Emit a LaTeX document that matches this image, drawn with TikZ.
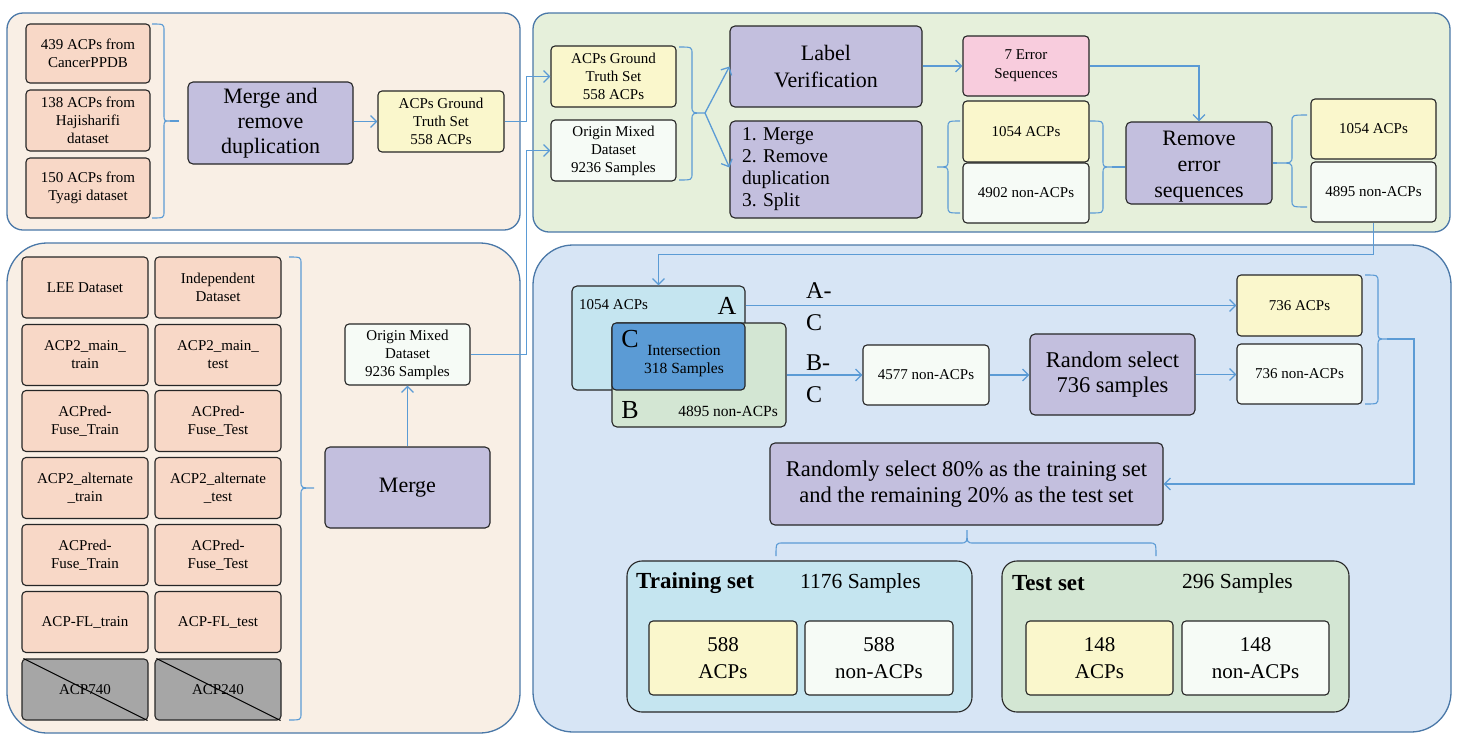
\documentclass[tikz,border=0pt]{standalone}
\usepackage{fontspec}
\setmainfont{Liberation Serif}
\usetikzlibrary{arrows.meta}
\definecolor{pbeige}{HTML}{F9EFE5}
\definecolor{pgreen}{HTML}{E6F0DB}
\definecolor{pblue}{HTML}{D7E5F5}
\definecolor{pborder}{HTML}{4A78A8}
\definecolor{salmon}{HTML}{F8D8C7}
\definecolor{lilac}{HTML}{C3BFDE}
\definecolor{lyellow}{HTML}{FAF7CC}
\definecolor{lwhite}{HTML}{F6FBF6}
\definecolor{lpink}{HTML}{F8CCDD}
\definecolor{lgray}{HTML}{A6A6A6}
\definecolor{lcyan}{HTML}{C5E5F0}
\definecolor{lgreen}{HTML}{D3E6D3}
\definecolor{cblue}{HTML}{5B9BD5}
\definecolor{conn}{HTML}{5B9BD5}
\newcommand\fs[2]{\fontsize{#1}{#2}\selectfont}
% vertical brace: x0 xv xt y1 ym y2
\newcommand\VBr[6]{\draw[brc] (#1,#4) .. controls (#2,#4) .. (#2,{#4+7}) -- (#2,{#5-7}) .. controls (#2,#5) .. (#3,#5) .. controls (#2,#5) .. (#2,{#5+7}) -- (#2,{#6-7}) .. controls (#2,#6) .. (#1,#6);}
% horizontal brace: y0 yv yt x1 xm x2
\newcommand\HBr[6]{\draw[brc] (#4,#1) .. controls (#4,#2) .. ({#4+7},#2) -- ({#5-7},#2) .. controls (#5,#2) .. (#5,#3) .. controls (#5,#2) .. ({#5+7},#2) -- ({#6-7},#2) .. controls (#6,#2) .. (#6,#1);}
\tikzset{
  panel/.style={draw=pborder, line width=1.3pt},
  box/.style={draw=black!85, line width=1.1pt, rounded corners=4pt, align=center, inner sep=0pt},
  sbox/.style={box, minimum width=125pt, minimum height=60pt, font={\fs{15}{18}}},
  pbox/.style={box, fill=lilac, rounded corners=5pt, font={\fs{22}{26}}},
  bbox/.style={box, minimum width=148pt, minimum height=74pt, font={\fs{21}{27}}},
  arr/.style={draw=conn, line width=1.3pt, -{Straight Barb[length=6pt,width=12pt]}},
  cline/.style={draw=conn, line width=1.3pt},
  brc/.style={draw=conn, line width=1.1pt},
  lbl/.style={inner sep=0pt}
}
\begin{document}
\frenchspacing
\begin{tikzpicture}[x=1pt,y=-1pt]
\useasboundingbox (0,0) rectangle (1460,745);
% panels
\draw[panel, fill=pbeige, rounded corners=16pt] (7,13) rectangle (520,230);
\draw[panel, fill=pgreen, rounded corners=16pt] (533,13) rectangle (1450,232);
\draw[panel, fill=pbeige, rounded corners=40pt] (7,243) rectangle (520,733);
\draw[panel, fill=pblue, rounded corners=40pt] (533,245) rectangle (1451,732);

% ---------- panel 1 ----------
\node[sbox, fill=salmon, minimum width=124pt, minimum height=59pt] (c1) at (88,53.5) {439 ACPs from\\CancerPPDB};
\node[sbox, fill=salmon, minimum width=124pt, minimum height=61pt] (c2) at (88,120.5) {138 ACPs from\\Hajisharifi\\dataset};
\node[sbox, fill=salmon, minimum width=124pt] (c3) at (88,188) {150 ACPs from\\Tyagi dataset};
\VBr{152}{164}{170}{24}{121}{218}
\coordinate (br1) at (170,121);
\coordinate (br1e) at (179,121);
\draw[cline] (br1) -- (br1e);
\node[pbox, minimum width=165pt, minimum height=82pt, font={\fs{22}{25}}] (mrd) at (270.5,123) {Merge and\\remove\\duplication};
\node[sbox, fill=lyellow, minimum width=126pt, minimum height=61pt] (gt1) at (441,121.5) {ACPs Ground\\Truth Set\\558 ACPs};
\draw[arr] (mrd.east |- gt1.west) -- (gt1.west);

% ---------- panel 2 ----------
\node[sbox, fill=lyellow, minimum height=61pt] (gt2) at (613.5,76.5) {ACPs Ground\\Truth Set\\558 ACPs};
\node[sbox, fill=lwhite, minimum height=61pt] (om2) at (613.5,150.5) {Origin Mixed\\Dataset\\9236 Samples};
\draw[arr] (gt1.east) -- ++(22,0) |- (gt2.west);
\VBr{679}{692}{705}{47}{113}{180}
\coordinate (br2) at (705,113);
\node[pbox, minimum width=192pt, minimum height=81pt, font={\fs{22}{27}}] (lv) at (826,66.5) {Label\\Verification};
\node[pbox, minimum width=192pt, minimum height=97pt, text width=168pt, align=left, font={\fs{19.5}{22}}] (mrs) at (826,169.5) {1. Merge\\2. Remove\\duplication\\3. Split};
\draw[arr] (br2) -- (lv.west);
\draw[arr] (br2) -- ([yshift=2pt]mrs.west);
\node[sbox, fill=lpink, minimum width=126pt, font={\fs{15}{19}}] (es) at (1026,66) {7 Error\\Sequences};
\node[sbox, fill=lyellow, minimum width=126pt, minimum height=61pt] (a1) at (1026,131.5) {1054 ACPs};
\node[sbox, fill=lwhite, minimum width=126pt] (n1) at (1026,193) {4902 non-ACPs};
\draw[arr] (lv.east |- es.west) -- (es.west);
\VBr{960}{948}{937}{121}{167}{213}
\VBr{1090}{1103}{1112}{121}{167}{213}
\coordinate (br4) at (1112,167);
\node[pbox, minimum width=146pt, minimum height=82pt] (res) at (1199,163) {\rule{0pt}{22pt}Remove\\error\\sequences};
\draw[cline] (br4) -- (br4 -| res.west);
\draw[arr] (es.east) -| (res.north);
\VBr{1307}{1292}{1277}{115}{163}{207}
\coordinate (br5) at (1277,163);
\draw[cline] (res.east) -- (br5);
\node[sbox, fill=lyellow] (o1) at (1373.5,129) {1054 ACPs};
\node[sbox, fill=lwhite] (o2) at (1373.5,192) {4895 non-ACPs};

% ---------- panel 3 ----------
\foreach \r/\y/\ta/\tb in {1/287.5/LEE Dataset/Independent\\Dataset,
  2/355/ACP2\_main\_\\train/ACP2\_main\_\\test,
  3/421/ACPred-\\Fuse\_Train/ACPred-\\Fuse\_Test,
  4/488/ACP2\_alternate\\\_train/ACP2\_alternate\\\_test,
  5/555/ACPred-\\Fuse\_Train/ACPred-\\Fuse\_Test,
  6/622/ACP-FL\_train/ACP-FL\_test}{
  \node[sbox, fill=salmon, minimum width=126pt, minimum height=61pt] (g\r a) at (85,\y) {\ta};
  \node[sbox, fill=salmon, minimum width=126pt, minimum height=61pt] (g\r b) at (218,\y) {\tb};
}
\node[sbox, fill=lgray, minimum width=126pt, minimum height=61pt] (g7a) at (85,689.5) {ACP740};
\node[sbox, fill=lgray, minimum width=126pt, minimum height=61pt] (g7b) at (218,689.5) {ACP240};
\draw[line width=1pt] ([xshift=2pt]g7a.north west) -- ([xshift=-1pt]g7a.south east);
\draw[line width=1pt] ([xshift=2pt]g7b.north west) -- ([xshift=-1pt]g7b.south east);
\VBr{289}{301}{314}{257}{488}{720}
\node[pbox, minimum width=165pt, minimum height=81pt] (mg) at (407.5,487.5) {Merge};
\node[sbox, fill=lwhite, minimum height=61pt] (om3) at (407.5,354.5) {Origin Mixed\\Dataset\\9236 Samples};
\draw[arr] (mg) -- (om3);
\draw[arr] (om3.east) -- ++(56,0) |- (om2.west);

% ---------- panel 4 ----------
\node[box, fill=lcyan, rounded corners=5pt, minimum width=173pt, minimum height=104pt] (abox) at (658.5,338) {};
\node[box, fill=lgreen, rounded corners=5pt, minimum width=174pt, minimum height=104pt] (bbox) at (699,375) {};
\node[box, fill=cblue, rounded corners=4pt, minimum width=133pt, minimum height=67pt] (cbox) at (678.5,356.5) {};
\draw[arr] (o2.south) -- ++(0,32) -| (abox.north);
\node[lbl, font={\fs{15}{17}}, anchor=west] (la) at (579,305) {1054 ACPs};
\node[lbl, font={\fs{26}{26}}] (lA) at (727,306) {A};
\node[lbl, font={\fs{26}{26}}] (lC) at (630,339) {C};
\node[lbl, font={\fs{15.5}{17.5}}, align=center] (lint) at (684,361) {Intersection\\318 Samples};
\node[lbl, font={\fs{26}{26}}] (lB) at (630,410) {B};
\node[lbl, font={\fs{15.5}{17}}, anchor=east] (lbn) at (778,411) {4895 non-ACPs};

\node[sbox, fill=lyellow, minimum height=61pt] (a736) at (1299.5,305.5) {736 ACPs};
\node[sbox, fill=lwhite] (n736) at (1299.5,374) {736 non-ACPs};
\node[sbox, fill=lwhite, minimum width=126pt] (n4577) at (926,375) {4577 non-ACPs};
\node[pbox, minimum width=165pt, minimum height=81pt, font={\fs{22.5}{25}}] (rs) at (1112.5,374.5) {Random select\\736 samples};
\draw[arr] (abox.east |- a736.west) -- (a736.west);
\node[lbl, font={\fs{24}{32}}, align=left, anchor=west] (lac) at (806,307) {A-\\C};
\draw[arr] (bbox.east) -- (bbox.east -| n4577.west);
\node[lbl, font={\fs{24}{32}}, align=left, anchor=west] (lbc) at (806,379) {B-\\C};
\draw[arr] (n4577.east) -- (n4577.east -| rs.west);
\draw[arr] (rs.east) -- (rs.east -| n736.west);
\VBr{1365}{1378}{1387}{275}{339}{404}
\coordinate (br6) at (1387,339);
\node[pbox, minimum width=393pt, minimum height=82pt, font={\fs{22.5}{26}}] (rsel) at (966.5,484) {Randomly select 80\% as the training set\\and the remaining 20\% as the test set};
\draw[arr] (br6) -- ++(27,0) |- (rsel.east);
\HBr{556}{543}{530}{776}{967}{1156}

\node[box, fill=lcyan, rounded corners=15pt, minimum width=345pt, minimum height=151pt] (tr) at (799.5,636.5) {};
\node[lbl, font={\bfseries\fs{23}{23}}, anchor=west] (trl) at (636,583) {Training set};
\node[lbl, font={\fs{21.5}{22}}, anchor=west] (trn) at (800,583) {1176 Samples};
\node[bbox, fill=lyellow] (t588a) at (723,658) {588\\ACPs};
\node[bbox, fill=lwhite] (t588n) at (879,658) {588\\non-ACPs};

\node[box, fill=lgreen, rounded corners=15pt, minimum width=347pt, minimum height=151pt] (te) at (1175.5,636.5) {};
\node[lbl, font={\bfseries\fs{23}{23}}, anchor=west] (tel) at (1012,583) {Test set};
\node[lbl, font={\fs{21.5}{22}}, anchor=west] (ten) at (1182,583) {296 Samples};
\node[bbox, fill=lyellow, minimum width=147pt] (s148a) at (1099.5,658) {148\\ACPs};
\node[bbox, fill=lwhite, minimum width=147pt] (s148n) at (1255.5,658) {148\\non-ACPs};
\end{tikzpicture}
\end{document}
